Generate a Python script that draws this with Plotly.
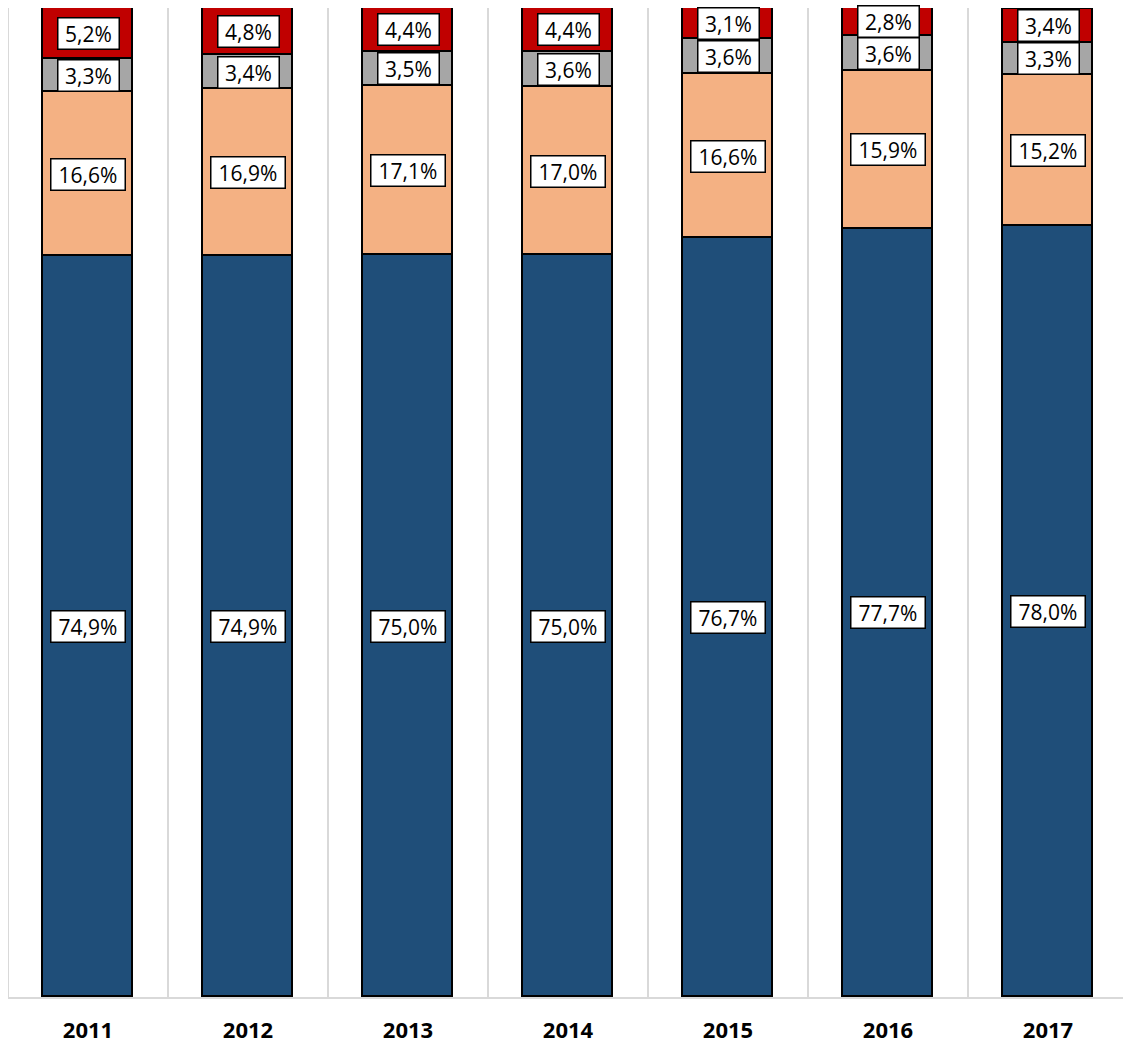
import plotly.graph_objects as go

years = ["2011", "2012", "2013", "2014", "2015", "2016", "2017"]
blue = [74.9, 74.9, 75.0, 75.0, 76.7, 77.7, 78.0]
peach = [16.6, 16.9, 17.1, 17.0, 16.6, 15.9, 15.2]
gray = [3.3, 3.4, 3.5, 3.6, 3.6, 3.6, 3.3]
red = [5.2, 4.8, 4.4, 4.4, 3.1, 2.8, 3.4]

series = [(blue, "#1F4E79"), (peach, "#F4B183"), (gray, "#A6A6A6"), (red, "#C00000")]

fig = go.Figure()
for vals, col in series:
    fig.add_trace(go.Bar(
        x=years, y=vals, marker=dict(color=col, line=dict(color="black", width=1.8)),
        width=0.5625, showlegend=False, hoverinfo="skip"))

def fmt(v):
    return f"{v:.1f}".replace(".", ",") + "%"

annotations = []
for i, yr in enumerate(years):
    base = 0.0
    for vals, col in series:
        v = vals[i]
        txt = fmt(v)
        annotations.append(dict(
            x=i, y=base + v / 2, xref="x", yref="y", text=txt, showarrow=False,
            font=dict(family="Open Sans", size=21, color="black"),
            width=58 if len(txt) == 4 else 71, height=28,
            bgcolor="white", bordercolor="black", borderwidth=1.5, borderpad=1))
        base += v

shapes = []
for k in range(len(years) + 1):
    shapes.append(dict(type="line", xref="x", yref="paper", x0=k - 0.5, x1=k - 0.5,
                       y0=0, y1=1, line=dict(color="#D9D9D9", width=2), layer="below"))

fig.update_layout(
    barmode="stack", width=1123, height=1045,
    margin=dict(l=8, r=0, t=8, b=48, autoexpand=False),
    plot_bgcolor="white", paper_bgcolor="white",
    annotations=annotations, shapes=shapes, bargap=0,
)
fig.update_xaxes(type="category", range=[-0.5, 6.5 - 5 / 160], showgrid=False,
                 showline=True, linecolor="#D9D9D9", linewidth=2, ticks="",
                 tickfont=dict(family="Open Sans", size=22, color="black", weight="bold"),
                 ticklabelstandoff=13, automargin=False)
fig.update_yaxes(range=[0, 100], showgrid=False, showticklabels=False, zeroline=False,
                 showline=False, automargin=False)

fig.write_html("out.html", config={"displayModeBar": False},
               post_script="document.body.style.margin='0';")
